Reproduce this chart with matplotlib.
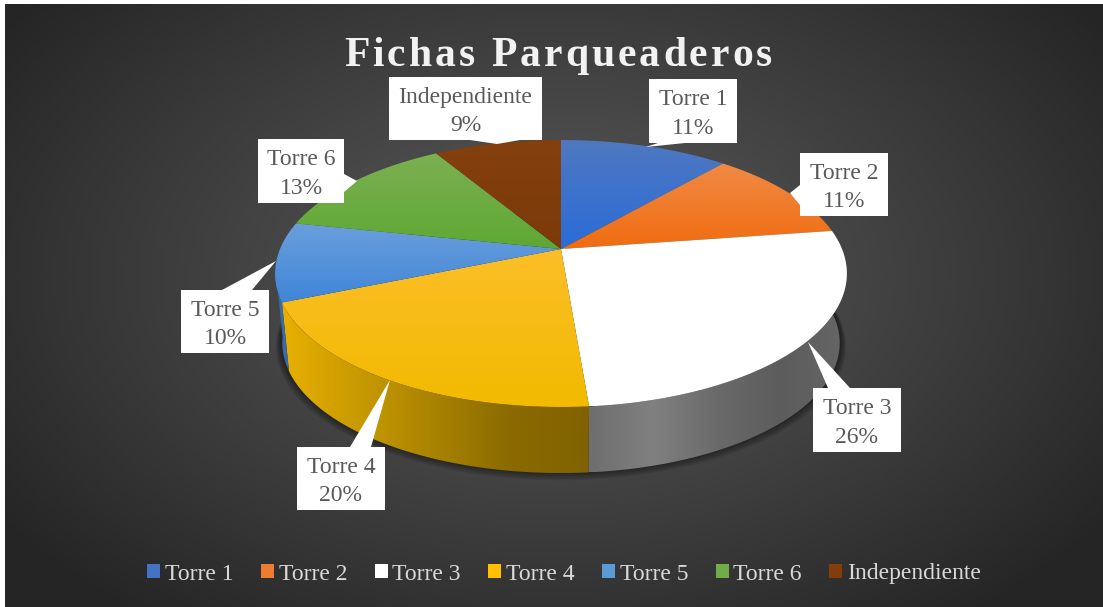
import numpy as np
import matplotlib
matplotlib.use("Agg")
import matplotlib.pyplot as plt
from matplotlib.colors import LinearSegmentedColormap
from matplotlib.patches import Patch, Polygon, Rectangle
from matplotlib.text import Text

categorias = ["Torre 1", "Torre 2", "Torre 3", "Torre 4", "Torre 5", "Torre 6", "Independiente"]
valores = [11.4, 11.3, 26.0, 20.0, 9.6, 13.1, 8.6]
titulo = "Fichas Parqueaderos"

colores = ["#4472c4", "#ed7d31", "#ffffff", "#ffc000", "#5b9bd5", "#70ad47", "#843c0c"]
top_ini = ["#4f78c0", "#f08a45", "#ffffff", "#fcbe28", "#6a9fdc", "#7cb052", "#84400e"]
top_fin = ["#2a6cd8", "#f06c10", "#ffffff", "#f2ba00", "#3f85d8", "#5ea832", "#7c3a0a"]
lado = {2: ["#6e6e6e", "#808080", "#6a6a6a", "#5c5c5c", "#666666"],
        3: ["#e8b000", "#c89a00", "#a88200", "#8a6a00", "#806200"],
        4: ["#3a6aa8", "#3a6aa8"]}

# caja de cada etiqueta (x0, y0, x1, y1) y triangulo del callout
cajas = [(649, 79, 737, 143), (800, 153, 888, 216), (813, 388, 901, 452), (297, 447, 385, 510),
         (181, 290, 269, 353), (258, 139, 344, 203), (389, 77, 542, 140)]
puntas = [[(646, 147), (658, 143), (685, 143)], [(790, 193), (800, 185), (800, 205)],
          [(808, 342), (828, 388), (850, 388)], [(390, 380), (350, 447), (371, 447)],
          [(276, 261), (222, 290), (252, 290)], [(357, 181), (344, 174), (344, 192)],
          [(497, 144), (470, 140), (520, 140)]]

W, H = 1103, 607
cx, cy, a, b, k = 561, 249, 281, 129, 0.1835


def borde(theta, caida=0, esc=1.0):
    d = 1 + k * np.cos(theta)
    return cx + esc * a * np.sin(theta) / d, cy - esc * b * np.cos(theta) / d + caida


def degradado(ax, x, y, stops, vertical=True, z=2):
    cm = LinearSegmentedColormap.from_list("g", stops)
    g = np.linspace(0, 1, 256)
    g = g[:, None] if vertical else g[None, :]
    im = ax.imshow(g, cmap=cm, vmin=0, vmax=1, aspect="auto", origin="upper",
                   extent=(x.min(), x.max(), y.max(), y.min()), zorder=z, interpolation="bilinear")
    clip = Polygon(np.column_stack([x, y]), closed=True, transform=ax.transData)
    im.set_clip_path(clip)


class TextoEspaciado(Text):
    # matplotlib no tiene letter-spacing: se dibuja letra a letra sin partir el texto
    espacio = 3.1

    def draw(self, renderer):
        if not self.get_visible():
            return
        completo = self.get_text()
        x0, y0 = self.get_position()
        for i, ch in enumerate(completo):
            w = renderer.get_text_width_height_descent(completo[:i], self.get_fontproperties(), False)[0] if i else 0
            Text.set_text(self, ch)
            self.set_position((x0 + w + i * self.espacio, y0))
            super().draw(renderer)
        Text.set_text(self, completo)
        self.set_position((x0, y0))


plt.rcParams["font.family"] = ["Liberation Serif", "DejaVu Serif"]
fig = plt.figure(figsize=(W / 100, H / 100), dpi=100, facecolor="white")
ax = fig.add_axes([0, 0, 1, 1])
ax.axis("off")

# fondo radial
yy, xx = np.mgrid[0:H, 0:W]
r = np.sqrt(((xx - W / 2) / (W * 0.62)) ** 2 + ((yy - H * 0.45) / (H * 0.72)) ** 2)
fondo = LinearSegmentedColormap.from_list("f", ["#5a5a5a", "#4a4a4a", "#383838", "#252525"])
ax.imshow(np.clip(r, 0, 1), cmap=fondo, vmin=0, vmax=1, extent=(5, W, H, 4), aspect="auto", zorder=0)

fracs = np.array(valores) / sum(valores)
cortes = np.concatenate([[0], np.cumsum(fracs)]) * 2 * np.pi

# sombra bajo el disco
th = np.linspace(0, 2 * np.pi, 300)
for i in range(8):
    sx, sy = borde(th, caida=68 + i * 0.8, esc=0.98 + i * 0.0025)
    ax.fill(sx, sy, color="black", alpha=0.07, lw=0, zorder=1)

# costado
for i, stops in lado.items():
    t = np.linspace(max(cortes[i], np.radians(78)), min(cortes[i + 1], np.radians(262)), 80)
    x1, y1 = borde(t)
    x2, y2 = borde(t[::-1], caida=70, esc=0.975)
    degradado(ax, np.r_[x1, x2], np.r_[y1, y2], stops, vertical=False, z=2)

# tapa
for i in range(len(valores)):
    t = np.linspace(cortes[i], cortes[i + 1], 80)
    x, y = borde(t)
    x = np.r_[cx, x]
    y = np.r_[cy, y]
    stops = [top_ini[i], top_fin[i]]
    degradado(ax, x, y, stops, z=3)

# etiquetas con callout
for i, nombre in enumerate(categorias):
    x0, y0, x1, y1 = cajas[i]
    ax.add_patch(Polygon(puntas[i], closed=True, fc="white", ec="none", zorder=5))
    ax.add_patch(Rectangle((x0, y0), x1 - x0, y1 - y0, fc="white", ec="none", zorder=5))
    ax.text((x0 + x1) / 2, (y0 + y1) / 2 + 3, f"{nombre}\n{round(valores[i])}%", fontsize=17, color="#595959",
            ha="center", va="center", linespacing=1.45, zorder=6)

# titulo
t = TextoEspaciado(344, 66, titulo, fontsize=30, fontweight="bold", color="#f2f2f2", ha="left", va="baseline", zorder=6)
ax.add_artist(t)

# leyenda
marcas = [Patch(facecolor=c, edgecolor="none", label=n) for c, n in zip(colores, categorias)]
ax.legend(handles=marcas, ncol=7, loc="center", bbox_to_anchor=(564 / W, 1 - 574 / H), frameon=False, fontsize=17,
          labelcolor="#d9d9d9", handlelength=0.55, handleheight=0.55, handletextpad=0.2, columnspacing=1.16,
          borderpad=0, borderaxespad=0)

ax.set_xlim(0, W)
ax.set_ylim(H, 0)
fig.savefig("out.png", dpi=100, facecolor="white")
